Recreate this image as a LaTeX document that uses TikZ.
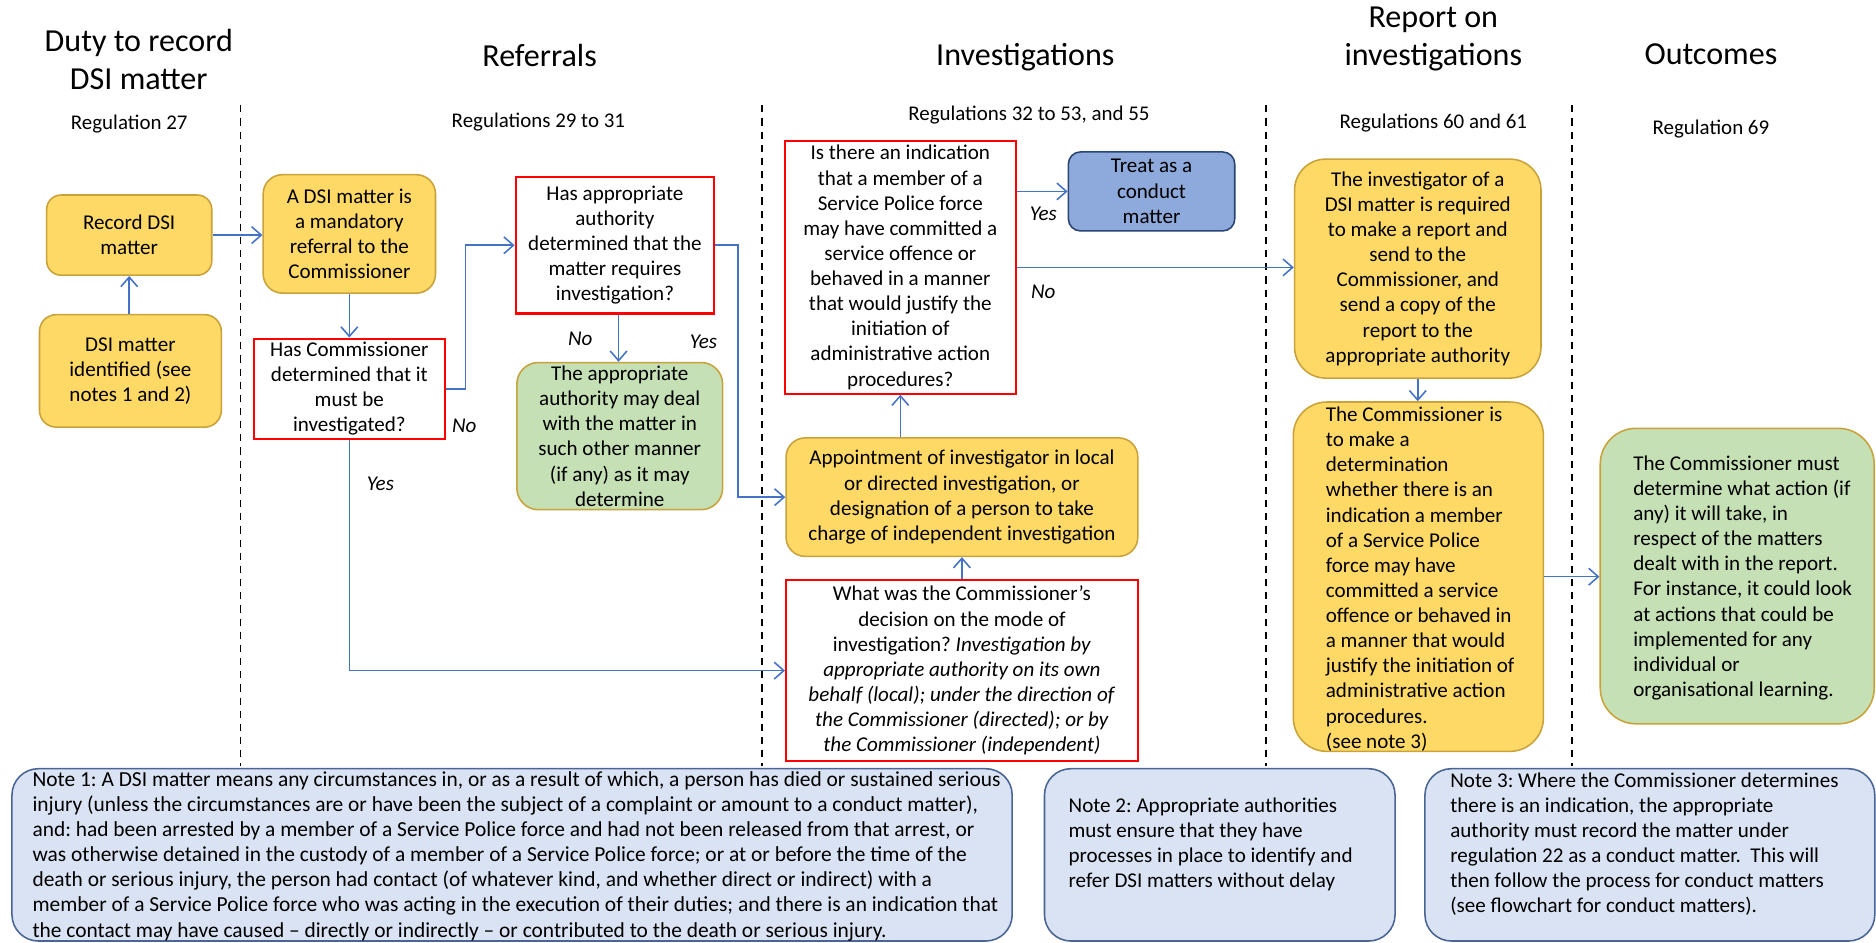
\documentclass[tikz,border=0pt]{standalone}
\usepackage{fontspec}
\setmainfont{Carlito}
\usetikzlibrary{arrows.meta}
\definecolor{ygold}{HTML}{FFD966}
\definecolor{ygoldline}{HTML}{C9A23A}
\definecolor{ggreen}{HTML}{C5E0B4}
\definecolor{bblue}{HTML}{8EA9DB}
\definecolor{bblueline}{HTML}{2A4473}
\definecolor{nfill}{HTML}{DAE3F3}
\definecolor{nline}{HTML}{4A6494}
\definecolor{arr}{HTML}{4472C4}
\frenchspacing
\begin{document}
\begin{tikzpicture}[x=1pt,y=-1pt,
  txt/.style={font=\fontsize{17.6}{21}\selectfont},
  box/.style={txt, inner sep=0pt, align=center},
  ybox/.style={box, draw=ygoldline, fill=ygold, line width=1.3pt},
  gbox/.style={box, draw=ygoldline, fill=ggreen, line width=1.3pt},
  rbox/.style={box, draw=red, fill=white, line width=1.8pt},
  bbox/.style={box, draw=bblueline, fill=bblue, line width=1.3pt, rounded corners=10pt},
  nbox/.style={box, draw=nline, fill=nfill, line width=1.3pt, rounded corners=22pt},
  flow/.style={draw=arr, line width=1.3pt, -{Straight Barb[length=8pt,width=14pt,line width=1.3pt]}},
  lab/.style={font=\fontsize{17.6}{21}\selectfont\itshape, inner sep=0pt},
  ttl/.style={font=\fontsize{26.8}{32}\selectfont, align=center, inner sep=0pt},
  reg/.style={font=\fontsize{17.5}{21}\selectfont, inner sep=0pt},
  lane/.style={draw=black, line width=1.3pt, dash pattern=on 6pt off 5pt},
  ltext/.style={txt, align=left, inner sep=0pt, anchor=west},
  n1font/.style={font=\fontsize{17.9}{21}\selectfont}
]
\useasboundingbox (0,0) rectangle (1568,788);
\fill[white] (0,0) rectangle (1568,788);

% headers
\node[ttl] (t1) at (116,50) {Duty to record\\DSI matter};
\node[ttl] (t2) at (451,46) {Referrals};
\node[ttl] (t3) at (857,48) {Investigations};
\node[ttl] (t4) at (1198,32.5) {Report on\\investigations};
\node[ttl] (t5) at (1430,45) {Outcomes};
\node[reg] (r1) at (108,104) {Regulation 27};
\node[reg] (r2) at (450,102) {Regulations 29 to 31};
\node[reg] (r3) at (860,96) {Regulations 32 to 53, and 55};
\node[reg] (r4) at (1198,103) {Regulations 60 and 61};
\node[reg] (r5) at (1430,108) {Regulation 69};

% lane separators
\coordinate (l1a) at (201,88); \coordinate (l1b) at (201,640);
\coordinate (l2a) at (637,88); \coordinate (l2b) at (637,640);
\coordinate (l3a) at (1058,88); \coordinate (l3b) at (1058,640);
\coordinate (l4a) at (1314,88); \coordinate (l4b) at (1314,640);
\draw[lane] (l1a) -- (l1b);
\draw[lane] (l2a) -- (l2b);
\draw[lane] (l3a) -- (l3b);
\draw[lane] (l4a) -- (l4b);

% boxes
\node[ybox, rounded corners=12pt, minimum width=138, minimum height=67] (record) at (108,196.5) {Record DSI\\matter};
\node[ybox, rounded corners=14pt, minimum width=152, minimum height=94] (ident) at (109,310) {DSI matter\\identified (see\\notes 1 and 2)};
\node[ybox, rounded corners=16pt, minimum width=144, minimum height=99] (mand) at (292,195.5) {A DSI matter is\\a mandatory\\referral to the\\Commissioner};
\node[rbox, minimum width=160, minimum height=84] (hascomm) at (292,325) {Has Commissioner\\determined that it\\must be\\investigated?};
\node[rbox, minimum width=166, minimum height=114] (hasapp) at (514,205) {Has appropriate\\authority\\determined that the\\matter requires\\investigation?};
\node[gbox, rounded corners=18pt, minimum width=172, minimum height=123] (dealt) at (518,364.5) {The appropriate\\authority may deal\\with the matter in\\such other manner\\(if any) as it may\\determine};
\node[rbox, minimum width=193, minimum height=211] (indic) at (752.5,223.5) {Is there an indication\\that a member of a\\Service Police force\\may have committed a\\service offence or\\behaved in a manner\\that would justify the\\initiation of\\administrative action\\procedures?};
\node[bbox, minimum width=139, minimum height=66] (conduct) at (962.5,160) {Treat as a\\conduct\\matter};
\node[ybox, rounded corners=16pt, minimum width=294, minimum height=99] (appoint) at (804,415.5) {Appointment of investigator in local\\or directed investigation, or\\designation of a person to take\\charge of independent investigation};
\node[rbox, minimum width=294, minimum height=151] (mode) at (804,560.5) {What was the Commissioner’s\\decision on the mode of\\investigation? \textit{Investigation by}\\\textit{appropriate authority on its own}\\\textit{behalf (local); under the direction of}\\\textit{the Commissioner (directed); or by}\\\textit{the Commissioner (independent)}};
\node[ybox, rounded corners=26pt, minimum width=206, minimum height=183] (invest) at (1185,224.5) {The investigator of a\\DSI matter is required\\to make a report and\\send to the\\Commissioner, and\\send a copy of the\\report to the\\appropriate authority};
\node[ybox, rounded corners=28pt, minimum width=209, minimum height=292] (cdet) at (1185.5,482) {};
\node[ltext] (cdettext) at (1108,484) {The Commissioner is\\to make a\\determination\\whether there is an\\indication a member\\of a Service Police\\force may have\\committed a service\\offence or behaved in\\a manner that would\\justify the initiation of\\administrative action\\procedures.\\(see note 3)};
\node[gbox, rounded corners=30pt, minimum width=229, minimum height=247] (outcome) at (1452,481.5) {};
\node[ltext] (outtext) at (1365,483) {The Commissioner must\\determine what action (if\\any) it will take, in\\respect of the matters\\dealt with in the report.\\For instance, it could look\\at actions that could be\\implemented for any\\individual or\\organisational learning.};

% notes
\node[nbox, minimum width=836, minimum height=144] (n1) at (428,714.5) {};
\node[ltext, n1font] (n1text) at (27,715.5) {Note 1: A DSI matter means any circumstances in, or as a result of which, a person has died or sustained serious\\injury (unless the circumstances are or have been the subject of a complaint or amount to a conduct matter),\\and: had been arrested by a member of a Service Police force and had not been released from that arrest, or\\was otherwise detained in the custody of a member of a Service Police force; or at or before the time of the\\death or serious injury, the person had contact (of whatever kind, and whether direct or indirect) with a\\member of a Service Police force who was acting in the execution of their duties; and there is an indication that\\the contact may have caused – directly or indirectly – or contributed to the death or serious injury.};
\node[nbox, minimum width=293, minimum height=144] (n2) at (1019.5,714.5) {};
\node[ltext] (n2text) at (893,705.5) {Note 2: Appropriate authorities\\must ensure that they have\\processes in place to identify and\\refer DSI matters without delay};
\node[nbox, minimum width=376, minimum height=144] (n3) at (1379,714.5) {};
\node[ltext] (n3text) at (1212,705.5) {Note 3: Where the Commissioner determines\\there is an indication, the appropriate\\authority must record the matter under\\regulation 22 as a conduct matter.\ \ This will\\then follow the process for conduct matters\\(see flowchart for conduct matters).};

% connectors
\draw[flow] (ident.north -| record.south) -- (record.south);
\draw[flow] (record.east) -- (record.east -| mand.west);
\draw[flow] (mand.south) -- (hascomm.north);
\draw[flow] (hascomm.east) -- ++(16,0) |- (hasapp.west);
\draw[flow] (hascomm.south) |- (mode.west);
\draw[flow] (hasapp.south -| 517,0) -- (dealt.north -| 517,0);
\draw[flow] (hasapp.east) -- ++(19,0) |- (appoint.west);
\draw[flow] (mode.north) -- (appoint.south);
\draw[flow] (indic.south |- appoint.north) -- (indic.south);
\draw[flow] (indic.east |- conduct.west) -- (conduct.west);
\draw[flow] (indic.east) -- (indic.east -| invest.west);
\draw[flow] (invest.south) -- (invest.south |- cdet.north);
\draw[flow] (cdet.east) -- (cdet.east -| outcome.west);

% labels
\node[lab] (lno1) at (388,356) {No};
\node[lab] (lyes1) at (318,404) {Yes};
\node[lab] (lno2) at (485,283) {No};
\node[lab] (lyes2) at (588,286) {Yes};
\node[lab] (lyes3) at (872,179) {Yes};
\node[lab] (lno3) at (872,244) {No};
\end{tikzpicture}
\end{document}
